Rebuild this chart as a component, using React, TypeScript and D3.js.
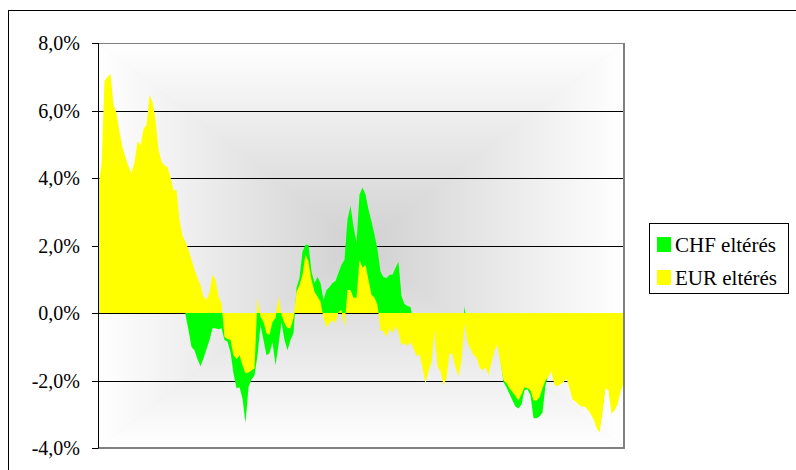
import React from 'react';
import * as d3 from 'd3';

// Y axis ticks (percent) and their labels
const yTicks = [-4, -2, 0, 2, 4, 6, 8];
const yTickLabels = ['-4,0%', '-2,0%', '0,0%', '2,0%', '4,0%', '6,0%', '8,0%'];
const gridValues = [-2, 0, 2, 4, 6];

const seriesNames = ['CHF eltérés', 'EUR eltérés'];
const seriesColors = ['#00ff00', '#ffff00'];

// EUR deviation (%)
const eur = [
  3.81, 4.38, 6.88, 6.99, 7.08, 6.16, 5.92, 5.36, 4.91, 4.61,
  4.35, 4.14, 4.46, 5.09, 4.97, 5.45, 5.57, 6.46, 6.25, 5.74,
  4.85, 4.49, 4.38, 4.32, 4.02, 3.63, 3.66, 2.77, 2.29, 2.11,
  1.88, 1.58, 1.28, 1.04, 0.83, 0.48, 0.39, 0.60, 1.13, 0.98,
  0.48, 0.30, -0.71, -0.77, -0.80, -1.25, -1.37, -1.25, -1.55, -1.79,
  -1.76, -1.70, -1.64, 0.45, -0.12, -0.27, -0.60, -0.65, -0.27, -0.15,
  0.48, -0.06, -0.30, -0.45, -0.45, -0.15, 0.63, 0.83, 1.13, 1.73,
  1.52, 0.98, 0.63, 0.48, 0.33, -0.15, -0.42, -0.30, -0.21, -0.30,
  0.03, 0.09, -0.42, 0.68, 0.68, 0.45, 0.45, 1.58, 1.34, 1.43,
  0.98, 0.54, 0.45, 0.24, -0.51, -0.54, -0.71, -0.45, -0.60, -0.39,
  -0.57, -0.95, -0.89, -0.98, -0.86, -1.04, -1.28, -1.22, -1.64, -2.08,
  -1.73, -1.46, -0.51, -1.58, -1.73, -2.14, -1.93, -1.19, -1.22, -1.61,
  -1.88, -1.40, -0.30, -0.86, -1.07, -1.25, -1.31, -1.61, -1.70, -1.61,
  -1.85, -1.46, -1.10, -0.95, -1.49, -1.99, -2.08, -2.23, -2.35, -2.47,
  -2.59, -2.41, -2.20, -2.23, -2.29, -2.59, -2.59, -2.50, -2.23, -1.99,
  -1.88, -1.73, -2.14, -2.17, -2.11, -2.05, -1.93, -2.23, -2.56, -2.62,
  -2.71, -2.77, -2.77, -2.86, -2.98, -3.15, -3.39, -3.55, -2.95, -2.23,
  -2.29, -2.98, -2.89, -2.71, -2.35, -2.08,
];

// CHF deviation (%)
const chf = [
  3.0, 3.5, 5.6, 5.8, 5.9, 5.0, 4.8, 4.3, 3.9, 3.6,
  3.4, 3.2, 3.5, 4.0, 3.9, 4.3, 4.4, 5.1, 4.9, 4.5,
  3.7, 3.3, 3.2, 3.1, 2.8, 2.4, 2.3, 1.4, 0.6, -0.05,
  -0.51, -1.01, -1.10, -1.37, -1.58, -1.34, -1.07, -0.80, -0.45, -0.45,
  -0.48, -0.45, -0.80, -0.85, -1.16, -1.79, -2.23, -2.20, -2.53, -3.25,
  -2.20, -1.96, -1.85, -1.25, -0.36, -0.80, -1.25, -1.19, -0.86, -1.55,
  -0.95, -0.27, -0.80, -1.10, -0.80, -0.60, 0.75, 1.04, 1.82, 2.02,
  2.02, 1.22, 0.89, 1.07, 0.89, 0.39, 0.68, 0.77, 0.89, 0.95,
  1.19, 1.43, 1.58, 2.77, 3.18, 2.56, 2.08, 3.51, 3.72, 3.51,
  3.07, 2.71, 2.32, 1.88, 1.22, 1.07, 1.04, 1.13, 1.13, 1.34,
  1.52, 0.50, 0.27, 0.21, 0.18, -0.30, -0.9, -0.9, -1.3, -1.7,
  -1.4, -1.1, -0.3, -1.2, -1.4, -1.8, -1.6, -0.9, -0.9, -1.3,
  -1.5, -1.0, 0.2, -0.5, -0.8, -1.0, -1.1, -1.4, -1.5, -1.4,
  -1.6, -1.3, -0.9, -0.8, -1.4, -2.05, -2.20, -2.40, -2.59, -2.77,
  -2.83, -2.71, -2.29, -2.26, -2.44, -3.12, -3.12, -3.07, -2.95, -2.14,
  -1.8, -1.6, -2.0, -2.1, -2.0, -1.95, -1.85, -2.1, -2.45, -2.5,
  -2.6, -2.65, -2.7, -2.75, -2.9, -3.05, -3.25, -3.4, -2.85, -2.1,
  -2.2, -2.85, -2.8, -2.6, -2.25, -2.0,
];

export default function App() {
  const W = 796, H = 470;
  const L = 98, R = 624, T = 43, B = 448;
  const cx = (L + R) / 2, cy = (T + B) / 2;
  const x = d3.scaleLinear().domain([0, eur.length - 1]).range([L + 0.5, R - 0.5]);
  const y = d3.scaleLinear().domain([-4, 8]).range([B, T]);
  const areaGen = d3.area<number>().x((_, i) => x(i)).y0(y(0)).y1((d) => y(d));
  const centerCol = '#d0d0d0';
  const edgeCol = '#ffffff';

  return (
    <svg width={W} height={H} style={{ position: 'absolute', left: 0, top: 0 }}>
      <defs>
        <linearGradient id="gT" gradientUnits="userSpaceOnUse" x1={0} y1={T} x2={0} y2={cy}>
          <stop offset="0" stopColor={edgeCol} />
          <stop offset="1" stopColor={centerCol} />
        </linearGradient>
        <linearGradient id="gB" gradientUnits="userSpaceOnUse" x1={0} y1={B} x2={0} y2={cy}>
          <stop offset="0" stopColor={edgeCol} />
          <stop offset="1" stopColor={centerCol} />
        </linearGradient>
        <linearGradient id="gL" gradientUnits="userSpaceOnUse" x1={L} y1={0} x2={cx} y2={0}>
          <stop offset="0" stopColor={edgeCol} />
          <stop offset="1" stopColor={centerCol} />
        </linearGradient>
        <linearGradient id="gR" gradientUnits="userSpaceOnUse" x1={R} y1={0} x2={cx} y2={0}>
          <stop offset="0" stopColor={edgeCol} />
          <stop offset="1" stopColor={centerCol} />
        </linearGradient>
      </defs>
      {/* outer chart border */}
      <rect x={8.5} y={10.5} width={820} height={500} fill="#fff" stroke="#000" strokeWidth={1} />
      {/* plot background: rectangular "from center" gradient */}
      <rect x={L} y={T} width={R - L} height={B - T} fill="#e4e4e4" />
      <polygon points={`${L},${T} ${R},${T} ${cx},${cy}`} fill="url(#gT)" stroke="url(#gT)" strokeWidth={0.5} />
      <polygon points={`${L},${B} ${R},${B} ${cx},${cy}`} fill="url(#gB)" stroke="url(#gB)" strokeWidth={0.5} />
      <polygon points={`${L},${T} ${L},${B} ${cx},${cy}`} fill="url(#gL)" stroke="url(#gL)" strokeWidth={0.5} />
      <polygon points={`${R},${T} ${R},${B} ${cx},${cy}`} fill="url(#gR)" stroke="url(#gR)" strokeWidth={0.5} />
      {/* gridlines */}
      {gridValues.map((v) => (
        <line key={v} x1={L} x2={R} y1={Math.round(y(v)) + 0.5} y2={Math.round(y(v)) + 0.5} stroke="#000" strokeWidth={1} />
      ))}
      <line x1={L} x2={R} y1={T + 0.5} y2={T + 0.5} stroke="#808080" strokeWidth={1} />
      {/* series */}
      <path d={areaGen(chf) || ''} fill={seriesColors[0]} />
      <path d={areaGen(eur) || ''} fill={seriesColors[1]} />
      {/* plot border right/bottom */}
      <line x1={R} x2={R} y1={T} y2={B + 1} stroke="#808080" strokeWidth={2} />
      <line x1={L} x2={R + 1} y1={B} y2={B} stroke="#808080" strokeWidth={2} />
      {/* y axis */}
      <line x1={L + 0.5} x2={L + 0.5} y1={T} y2={B + 0.5} stroke="#000" strokeWidth={1} />
      {yTicks.map((v) => (
        <line key={'t' + v} x1={L - 6} x2={L} y1={Math.round(y(v)) + 0.5} y2={Math.round(y(v)) + 0.5} stroke="#000" strokeWidth={1} />
      ))}
      {yTicks.map((v, i) => (
        <text key={'l' + v} x={80} y={y(v) + 7} textAnchor="end" fontFamily="Tinos, Liberation Serif, Times New Roman, FreeSerif, serif" fontSize={20}>
          {yTickLabels[i]}
        </text>
      ))}
      {/* legend */}
      <rect x={649.5} y={223.5} width={139} height={70} fill="#fff" stroke="#000" strokeWidth={1} />
      {seriesNames.map((name, i) => (
        <rect key={'s' + name} x={657} y={237 + i * 33} width={14} height={15} fill={seriesColors[i]} />
      ))}
      {seriesNames.map((name, i) => (
        <text key={'n' + name} x={675} y={252 + i * 33} fontFamily="Tinos, Liberation Serif, Times New Roman, FreeSerif, serif" fontSize={21}>
          {name}
        </text>
      ))}
    </svg>
  );
}
